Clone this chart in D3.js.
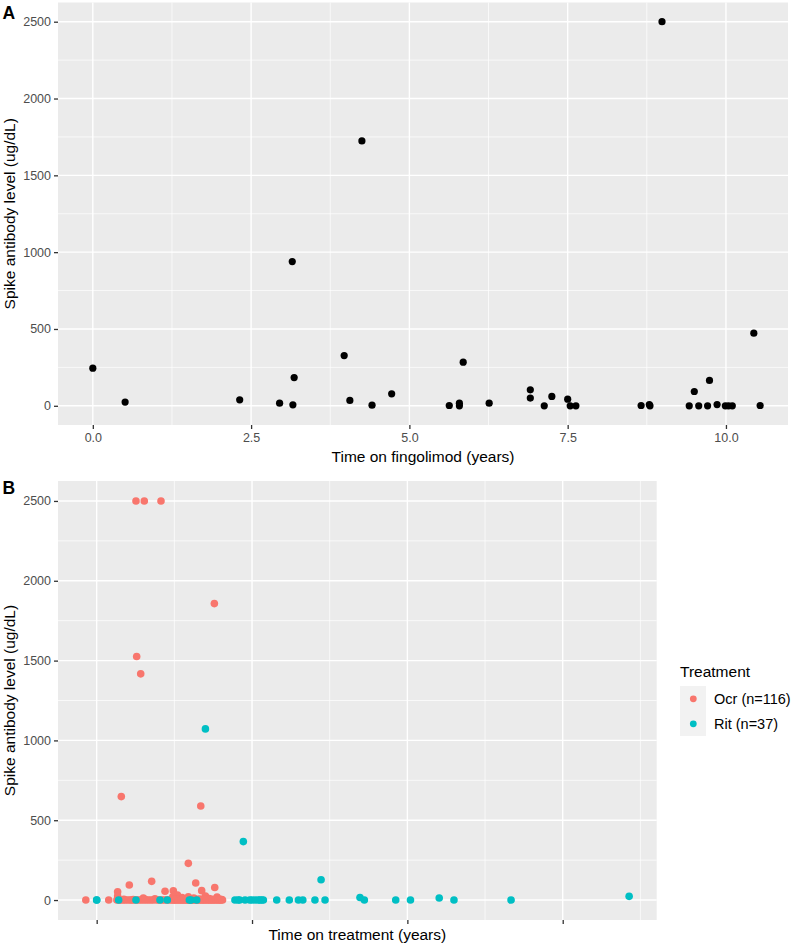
<!DOCTYPE html>
<html>
<head>
<meta charset="utf-8">
<script src="https://cdn.jsdelivr.net/npm/d3@7"></script>
<style>
  html, body { margin: 0; padding: 0; background: #fff; }
  svg { display: block; font-family: "Liberation Sans", Arial, sans-serif; }
</style>
</head>
<body>
<svg id="chart" width="791" height="945"></svg>
<script>
// ---------- Data ----------
// Panel A: fingolimod
const fingTime  = [0.0, 0.51, 2.32, 2.95, 3.15, 3.16, 3.18, 3.97, 4.06, 4.25, 4.41, 4.72, 5.63, 5.79, 5.79, 5.85, 6.26, 6.91, 6.91, 7.13, 7.25, 7.50, 7.54, 7.63, 8.66, 8.79, 8.80, 8.99, 9.42, 9.50, 9.57, 9.71, 9.74, 9.86, 9.99, 10.04, 10.10, 10.44, 10.54];
const fingLevel = [245, 24, 39, 17, 939, 6, 184, 327, 35, 1724, 4, 78, 2, 17, 0, 284, 17, 104, 50, 0, 61, 43, 0, 0, 2, 8, 0, 2500, 0, 93, 0, 0, 165, 8, 0, 0, 0, 473, 2];

// Panel B: Ocrelizumab (n=116)
const ocrTime = [
  0.506, 0.613, 0.828, 1.515, 0.515, 0.567, 0.317, 1.34, 1.18, 0.708, 1.275, 0.42, 1.52, 0.88, 0.987, 0.27, 1.352, 1.04, 0.27, 1.18, 1.01, 1.40, 0.98, 1.10, 1.55, 1.45, 0.60, 0.75, 1.25,
  -0.14, 0.155, 0.26, 0.29, 0.31, 0.34, 0.37, 0.40, 0.43, 0.45, 0.48, 0.52, 0.55, 0.58, 0.61, 0.64, 0.67, 0.70, 0.73, 0.77, 0.80, 0.84, 0.87, 0.90, 0.93, 0.96, 0.98,
  1.00, 1.02, 1.04, 1.06, 1.08, 1.10, 1.12, 1.14, 1.16, 1.18, 1.20, 1.22, 1.24, 1.26, 1.28, 1.30, 1.32, 1.34, 1.36, 1.38, 1.40, 1.42, 1.44, 1.46, 1.48, 1.50, 1.52, 1.54, 1.56, 1.58, 1.60, 1.62,
  0.35, 0.47, 0.62, 0.99, 1.01, 1.03, 1.05, 1.07, 1.09, 1.11, 1.13, 1.15, 1.17, 1.19, 1.21, 1.23, 1.27, 1.29, 1.31, 1.33, 1.37, 1.41, 1.45, 1.49, 1.53, 1.57, 1.59, 1.61
];
const ocrLevel = [
  2500, 2500, 2500, 1857, 1526, 1417, 648, 589, 230, 117, 107, 94, 79, 55, 58, 52, 59, 31, 25, 20, 30, 25, 20, 15, 18, 10, 12, 8, 12,
  0, 0, 0, 0, 0, 0, 0, 0, 0, 0, 0, 0, 0, 0, 0, 0, 0, 0, 0, 0, 0, 0, 0, 0, 0, 0, 0,
  0, 0, 0, 0, 0, 0, 0, 0, 0, 0, 0, 0, 0, 0, 0, 0, 0, 0, 0, 0, 0, 0, 0, 0, 0, 0, 0, 0, 0, 0, 0, 0,
  4, 3, 5, 3, 4, 6, 3, 5, 4, 3, 6, 4, 3, 5, 4, 3, 5, 4, 3, 6, 4, 5, 3, 4, 5, 3, 4, 3
];

// Panel B: Rituximab (n=37)
const ritTime  = [0.0, 0.0, 0.283, 0.506, 0.815, 0.909, 1.193, 1.215, 1.288, 1.40, 1.78, 1.82, 1.84, 1.888, 1.91, 1.97, 2.0, 2.04, 2.08, 2.1, 2.125, 2.146, 2.318, 2.48, 2.597, 2.654, 2.81, 2.889, 2.94, 3.39, 3.446, 3.85, 4.04, 4.41, 4.6, 5.335, 6.855];
const ritLevel = [0, 0, 0, 0, 0, 0, 0, 0, 0, 1072, 0, 0, 0, 366, 0, 0, 0, 0, 0, 0, 0, 0, 0, 0, 0, 0, 0, 127, 0, 16, 0, 0, 0, 13, 0, 0, 23];

// Ticks / labels
const yTicks = [0, 500, 1000, 1500, 2000, 2500];
const yMinor = [250, 750, 1250, 1750, 2250];
const xTicksA = [0, 2.5, 5, 7.5, 10];
const xMinorA = [1.25, 3.75, 6.25, 8.75];
const xTickLabelsA = ["0.0", "2.5", "5.0", "7.5", "10.0"];
const xTicksB = [0, 2, 4, 6];
const xMinorB = [1, 3, 5, 7];
const treatments = ["Ocr (n=116)", "Rit (n=37)"];
const colors = ["#F8766D", "#00BFC4"];

// ---------- Drawing ----------
const svg = d3.select("#chart");
svg.append("rect").attr("width", 791).attr("height", 945).attr("fill", "#fff");

function panel(opts) {
  const { x, y, xTicks, xMinor, xLabels, yLabel, xTitle, tag, tagY } = opts;
  const g = svg.append("g");
  const [x0, x1] = x.range();
  const [y0, y1] = y.range(); // y0 bottom, y1 top
  g.append("rect").attr("x", x0).attr("y", y1).attr("width", x1 - x0).attr("height", y0 - y1).attr("fill", "#EBEBEB");
  // minor grid
  g.selectAll(".ymin").data(yMinor).join("line")
    .attr("x1", x0).attr("x2", x1).attr("y1", d => y(d)).attr("y2", d => y(d))
    .attr("stroke", "#fff").attr("stroke-width", 0.7);
  g.selectAll(".xmin").data(xMinor).join("line")
    .attr("y1", y0).attr("y2", y1).attr("x1", d => x(d)).attr("x2", d => x(d))
    .attr("stroke", "#fff").attr("stroke-width", 0.7);
  // major grid
  g.selectAll(".ymaj").data(yTicks).join("line")
    .attr("x1", x0).attr("x2", x1).attr("y1", d => y(d)).attr("y2", d => y(d))
    .attr("stroke", "#fff").attr("stroke-width", 1.4);
  g.selectAll(".xmaj").data(xTicks).join("line")
    .attr("y1", y0).attr("y2", y1).attr("x1", d => x(d)).attr("x2", d => x(d))
    .attr("stroke", "#fff").attr("stroke-width", 1.4);

  // axes
  const ax = g.append("g").attr("transform", `translate(0,${y0})`)
    .call(d3.axisBottom(x).tickValues(xTicks).tickSize(4).tickPadding(4)
      .tickFormat((d, i) => xLabels ? xLabels[i] : ""));
  ax.select(".domain").remove();
  ax.selectAll("line").attr("stroke", "#333").attr("stroke-width", 1.3);
  ax.selectAll("text").attr("fill", "#4D4D4D").attr("font-size", 12.5).attr("font-family", "Liberation Sans, Arial, sans-serif");

  const ay = g.append("g").attr("transform", `translate(${x0},0)`)
    .call(d3.axisLeft(y).tickValues(yTicks).tickSize(4).tickPadding(3).tickFormat(d3.format("d")));
  ay.select(".domain").remove();
  ay.selectAll("line").attr("stroke", "#333").attr("stroke-width", 1.3);
  ay.selectAll("text").attr("fill", "#4D4D4D").attr("font-size", 12.5).attr("font-family", "Liberation Sans, Arial, sans-serif");

  // titles
  g.append("text").attr("x", (x0 + x1) / 2).attr("y", opts.xTitleY)
    .attr("text-anchor", "middle").attr("font-size", 15.5).attr("fill", "#000").text(xTitle);
  g.append("text").attr("transform", `translate(15,${(y0 + y1) / 2}) rotate(-90)`)
    .attr("text-anchor", "middle").attr("font-size", 15.5).attr("fill", "#000").text(yLabel);
  g.append("text").attr("x", 2.5).attr("y", tagY).attr("font-size", 17.5).attr("font-weight", "bold").attr("fill", "#000").text(tag);
  return g;
}

// Panel A
const xA = d3.scaleLinear().domain([-0.55, 10.98]).range([58, 788]);
const yA = d3.scaleLinear().domain([-125, 2625]).range([425, 2.5]);
const gA = panel({ x: xA, y: yA, xTicks: xTicksA, xMinor: xMinorA, xLabels: xTickLabelsA,
  yLabel: "Spike antibody level (ug/dL)", xTitle: "Time on fingolimod (years)", xTitleY: 461.5, tag: "A", tagY: 19 });
gA.selectAll(".ptA").data(fingTime.map((t, i) => ({ t, v: fingLevel[i] }))).join("circle")
  .attr("cx", d => xA(d.t)).attr("cy", d => yA(d.v)).attr("r", 3.6).attr("fill", "#000");

// Panel B
const xB = d3.scaleLinear().domain([-0.498, 7.21]).range([58, 656.7]);
const yB = d3.scaleLinear().domain([-125, 2625]).range([920, 481]);
const gB = panel({ x: xB, y: yB, xTicks: xTicksB, xMinor: xMinorB, xLabels: null,
  yLabel: "Spike antibody level (ug/dL)", xTitle: "Time on treatment (years)", xTitleY: 939.5, tag: "B", tagY: 493.5 });
const ocrPts = ocrTime.map((t, i) => ({ t, v: ocrLevel[i] }));
const ritPts = ritTime.map((t, i) => ({ t, v: ritLevel[i] }));
gB.selectAll(".ocr").data(ocrPts).join("circle")
  .attr("cx", d => xB(d.t)).attr("cy", d => yB(d.v)).attr("r", 3.8).attr("fill", colors[0]);
gB.selectAll(".rit").data(ritPts).join("circle")
  .attr("cx", d => xB(d.t)).attr("cy", d => yB(d.v)).attr("r", 3.8).attr("fill", colors[1]);

// Legend
const lg = svg.append("g");
lg.append("text").attr("x", 680).attr("y", 677).attr("font-size", 15.5).attr("fill", "#000").text("Treatment");
treatments.forEach((name, i) => {
  const ky = 686 + i * 25;
  lg.append("rect").attr("x", 680).attr("y", ky).attr("width", 26).attr("height", 25).attr("fill", "#F2F2F2");
  lg.append("circle").attr("cx", 693.3).attr("cy", ky + 12.8).attr("r", 3.4).attr("fill", colors[i]);
  lg.append("text").attr("x", 714).attr("y", ky + 18.3).attr("font-size", 14.5).attr("fill", "#000").text(name);
});
</script>
</body>
</html>
